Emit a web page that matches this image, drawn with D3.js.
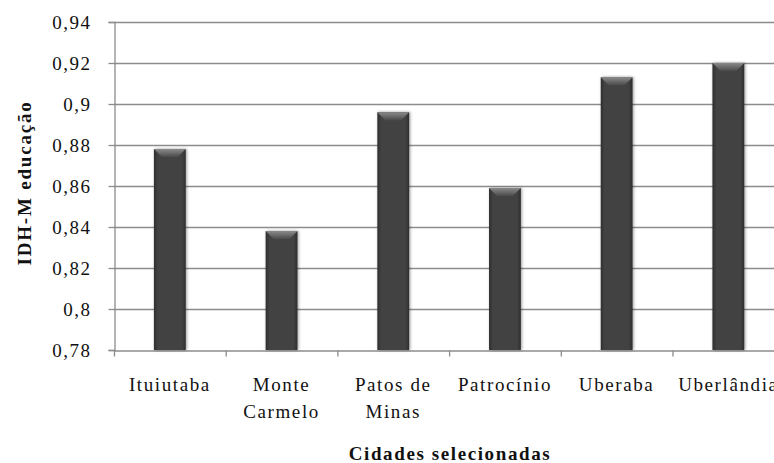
<!DOCTYPE html>
<html><head><meta charset="utf-8">
<script src="https://cdn.jsdelivr.net/npm/d3@7"></script>
<style>body{margin:0;background:#fff}svg{display:block}
text{font-family:"Liberation Serif","Times New Roman",serif}</style>
</head><body>
<script>
const categories = [["Ituiutaba"],["Monte","Carmelo"],["Patos de","Minas"],["Patrocínio"],["Uberaba"],["Uberlândia"]];
const values = [0.878, 0.838, 0.896, 0.859, 0.913, 0.920];
const yTicks = [0.78,0.80,0.82,0.84,0.86,0.88,0.90,0.92,0.94];
const yTickLabels = ["0,78","0,8","0,82","0,84","0,86","0,88","0,9","0,92","0,94"];
const xTitle = "Cidades selecionadas";
const yTitle = "IDH-M  educação";

const W=774,H=463;
const svg=d3.select("body").append("svg").attr("width",W).attr("height",H);
const defs=svg.append("defs");
const g1=defs.append("linearGradient").attr("id","barg").attr("x1","0").attr("x2","1").attr("y1","0").attr("y2","0");
g1.append("stop").attr("offset","0").attr("stop-color","#2e2e2e");
g1.append("stop").attr("offset","0.12").attr("stop-color","#424242");
g1.append("stop").attr("offset","0.88").attr("stop-color","#424242");
g1.append("stop").attr("offset","1").attr("stop-color","#2e2e2e");
const g2=defs.append("linearGradient").attr("id","topg").attr("x1","0").attr("x2","0").attr("y1","0").attr("y2","1");
g2.append("stop").attr("offset","0").attr("stop-color","#8a8a8a");
g2.append("stop").attr("offset","1").attr("stop-color","#4a4a4a");
const f=defs.append("filter").attr("id","sh").attr("x","-30%").attr("y","-10%").attr("width","160%").attr("height","120%");
f.append("feGaussianBlur").attr("in","SourceAlpha").attr("stdDeviation","1.5");
f.append("feOffset").attr("dx","1").attr("dy","0").attr("result","b");
f.append("feComponentTransfer").append("feFuncA").attr("type","linear").attr("slope","0.4");
const fm=f.append("feMerge");fm.append("feMergeNode");fm.append("feMergeNode").attr("in","SourceGraphic");

const x0=114, plotTop=22, plotBot=350;
const x=d3.scaleBand().domain(d3.range(categories.length)).range([x0, x0+6*111.7]).paddingInner(0.715).paddingOuter(0.3575);
const y=d3.scaleLinear().domain([0.78,0.94]).range([plotBot,plotTop]);

// gridlines
svg.append("g").selectAll("line").data(yTicks.slice(1)).join("line")
  .attr("x1",x0).attr("x2",x.range()[1]).attr("y1",d=>Math.round(y(d))+0.5).attr("y2",d=>Math.round(y(d))+0.5)
  .attr("stroke","#8c8c8c").attr("stroke-width",1.3);

// y axis
const ya=svg.append("g").attr("transform",`translate(${x0+0.5},0)`)
  .call(d3.axisLeft(y).tickValues(yTicks).tickFormat((d,i)=>yTickLabels[i]).tickSize(6).tickPadding(17));
ya.select(".domain").attr("stroke","#8c8c8c").attr("stroke-width",1.3);
ya.selectAll(".tick line").attr("stroke","#8c8c8c").attr("stroke-width",1.3);
ya.selectAll(".tick text").attr("font-family",null).attr("font-size",19).attr("letter-spacing","1.5").attr("fill","#111");

// x axis
const xb=d3.scaleLinear().domain([0,6]).range(x.range());
const xa=svg.append("g").attr("transform",`translate(0,${plotBot+0.5})`)
  .call(d3.axisBottom(xb).tickValues(d3.range(7)).tickFormat("").tickSize(6).tickSizeOuter(0));
xa.select(".domain").attr("stroke","#8c8c8c").attr("stroke-width",1.3);
xa.selectAll(".tick line").attr("stroke","#8c8c8c").attr("stroke-width",1.3);

// bars
const bars=svg.append("g").selectAll("g").data(values).join("g").attr("filter","url(#sh)");
bars.append("rect").attr("x",(d,i)=>x(i)).attr("width",x.bandwidth())
  .attr("y",d=>y(d)).attr("height",d=>plotBot-y(d)).attr("fill","url(#barg)");
bars.append("path").attr("d",(d,i)=>{
  const l=x(i), r=x(i)+x.bandwidth(), t=y(d), w=x.bandwidth();
  return `M${l},${t}L${r},${t}L${r-w*0.25},${t+8}L${l+w*0.25},${t+8}Z`;
}).attr("fill","url(#topg)");

// category labels
const lab=svg.append("g").attr("font-size",19).attr("fill","#111").attr("text-anchor","middle").attr("letter-spacing","1.6");
categories.forEach((c,i)=>{
  const t=lab.append("text").attr("x",x(i)+x.bandwidth()/2).attr("y",391);
  c.forEach((s,j)=>t.append("tspan").attr("x",x(i)+x.bandwidth()/2).attr("dy",j?27:0).text(s));
});

svg.append("text").attr("x",450).attr("y",460).attr("text-anchor","middle").attr("letter-spacing","1.6")
  .attr("font-weight","bold").attr("font-size",19).attr("fill","#111").text(xTitle);
svg.append("text").attr("transform","translate(31,183) rotate(-90)").attr("text-anchor","middle").attr("letter-spacing","1.8")
  .attr("font-weight","bold").attr("font-size",19).attr("fill","#111").text(yTitle);
</script>
</body></html>
